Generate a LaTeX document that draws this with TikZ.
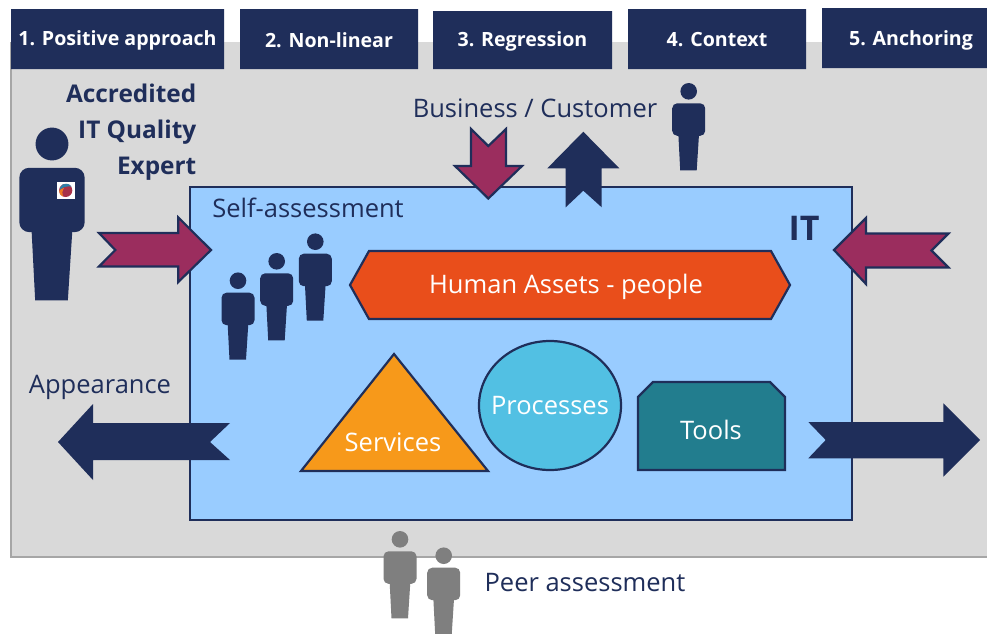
\documentclass[tikz,border=0pt]{standalone}
\usepackage{fontspec}
\setmainfont{Open Sans}
\definecolor{navy}{HTML}{1F2E5A}
\definecolor{maroon}{HTML}{9B2D5E}
\definecolor{bggray}{HTML}{D9D9D9}
\definecolor{edgegray}{HTML}{A6A6A6}
\definecolor{itblue}{HTML}{99CCFF}
\definecolor{hexred}{HTML}{E94E1B}
\definecolor{svcorange}{HTML}{F7991A}
\definecolor{proccyan}{HTML}{52C0E3}
\definecolor{toolteal}{HTML}{227D8E}
\definecolor{figgray}{HTML}{7F7F7F}
\definecolor{badgeblue}{HTML}{2F7FA8}
\definecolor{badgered}{HTML}{A8324A}
\definecolor{badgeorange}{HTML}{EE7B22}
\tikzset{
  topbox/.style={text=white,font=\bfseries\fontsize{19.6}{24}\selectfont,inner sep=0pt},
  dlabel/.style={text=navy,font=\fontsize{25.5}{30}\selectfont,inner sep=0pt},
  inlabel/.style={text=white,font=\fontsize{25.5}{30}\selectfont,inner sep=0pt},
  shapeline/.style={draw=navy,line width=2.2pt,line join=miter},
  pinkarrow/.style={fill=maroon,draw=navy,line width=2.2pt,line join=miter,miter limit=3},
  navyarrow/.style={fill=navy,draw=none}
}
\newcommand{\personfig}[4]{%
  \begin{scope}[shift={(#1,#2)},scale=#3]
    \fill[#4] (0,0) circle[radius=8.3];
    \fill[#4,rounded corners=#3*5pt] (-16.5,12) rectangle (16.5,44.5);
    \fill[#4] (-10.5,40) -- (-8.5,79) -- (8,79) -- (10.5,40) -- cycle;
  \end{scope}}
\begin{document}
\begin{tikzpicture}[x=1pt,y=-1pt]
\useasboundingbox (0,0) rectangle (987,633);
\fill[white] (0,0) rectangle (987,633);
% background panel
\fill[bggray] (11,42) rectangle (987,557);
\draw[edgegray,line width=1.3pt] (11,42) -- (11,557) -- (987,557);
% top boxes
\fill[navy] (11,9) rectangle (224,69) (240,9) rectangle (418,69) (433,11) rectangle (612,69) (628,9) rectangle (806,69) (822,8) rectangle (987,68);
\node[topbox] (t1) at (117.5,40) {1. Positive approach};
\node[topbox] (t2) at (329,40) {2. Non-linear};
\node[topbox] (t3) at (522.5,41) {3. Regression};
\node[topbox] (t4) at (717,40) {4. Context};
\node[topbox] (t5) at (911,40) {5. Anchoring};
% IT panel
\path[fill=itblue,draw=navy,line width=2.4pt] (190,187) rectangle (852,520);
% labels
\node[dlabel,font=\bfseries\fontsize{24.4}{36}\selectfont,align=right,anchor=north east] (aq) at (196.5,84) {Accredited\\IT Quality\\Expert};
\node[dlabel] (bc) at (535,108) {Business / Customer};
\node[dlabel] (sa) at (308,208) {Self-assessment};
\node[dlabel] (app) at (100,387) {Appearance};
\node[dlabel] (peer) at (585,583) {Peer assessment};
\node[text=navy,font=\bfseries\fontsize{34}{38}\selectfont,inner sep=0pt] (it) at (804,228) {IT};
% people
\personfig{52}{144}{1.98}{navy}
\personfig{238}{280.7}{1}{navy}
\personfig{276.7}{261.3}{1}{navy}
\personfig{315.3}{241.7}{1}{navy}
\personfig{688.7}{91.3}{1}{navy}
\personfig{400}{539.3}{1}{figgray}
\personfig{443.7}{555.7}{1}{figgray}
% badge
\fill[white] (56.7,181.7) rectangle (74.7,198.7);
\fill[badgered] (65.7,190.4) circle[radius=6.6];
\fill[badgeorange] (59.2,191) .. controls (60,189) and (62,188.5) .. (64,188) .. controls (62,191) and (62,194) .. (63,196.5) .. controls (60.5,195.8) and (59.2,193.5) .. (59.2,191) -- cycle;
\fill[badgeblue] (60,187.5) .. controls (61,184.5) and (64,183.5) .. (67,183.8) .. controls (69,184) and (70.5,185) .. (71.5,186.5) .. controls (67,186) and (63,187) .. (60,189.5) -- cycle;
% block arrows
\draw[pinkarrow] (99,233) -- (178.3,233) -- (178.3,217.5) -- (211,250) -- (178.3,282) -- (178.3,266.5) -- (99,266.5) -- (115.3,250) -- cycle;
\draw[pinkarrow] (471,129) -- (488.3,146) -- (506,129) -- (506,166) -- (522,166) -- (488.3,198.5) -- (455,166) -- (471,166) -- cycle;
\fill[navyarrow] (565.7,207.3) -- (583.3,190.7) -- (601.7,207.3) -- (601.7,168.3) -- (619.3,168.3) -- (583.3,131.7) -- (547.3,168.3) -- (565.7,168.3) -- cycle;
\draw[pinkarrow] (948.5,233.5) -- (866,233.5) -- (866,218) -- (834,250) -- (866,284) -- (866,267.5) -- (948.5,267.5) -- (931.5,250.5) -- cycle;
\fill[navyarrow] (230,423) -- (93,423) -- (93,404) -- (58,442) -- (93,480) -- (93,460) -- (230,460) -- (210,442) -- cycle;
\fill[navyarrow] (808.3,422) -- (943.3,422) -- (943.3,403.3) -- (980,440) -- (943.3,476.7) -- (943.3,458.3) -- (808.3,458.3) -- (825.7,440) -- cycle;
% inner shapes
\draw[shapeline,fill=hexred] (350,285) -- (369,251) -- (771,251) -- (790,285) -- (771,319) -- (369,319) -- cycle;
\node[inlabel] (hap) at (566,287) {Human Assets - people};
\draw[shapeline,fill=svcorange] (394,354) -- (488,471) -- (301,471) -- cycle;
\node[inlabel] (svc) at (393,442) {Services};
\draw[shapeline,fill=proccyan] (550,405.5) ellipse[x radius=71,y radius=64.5];
\node[inlabel] (prc) at (550,406) {Processes};
\draw[shapeline,fill=toolteal] (653,382) -- (770,382) -- (785,397) -- (785,470) -- (638,470) -- (638,397) -- cycle;
\node[inlabel] (tls) at (711,430) {Tools};
\end{tikzpicture}
\end{document}
